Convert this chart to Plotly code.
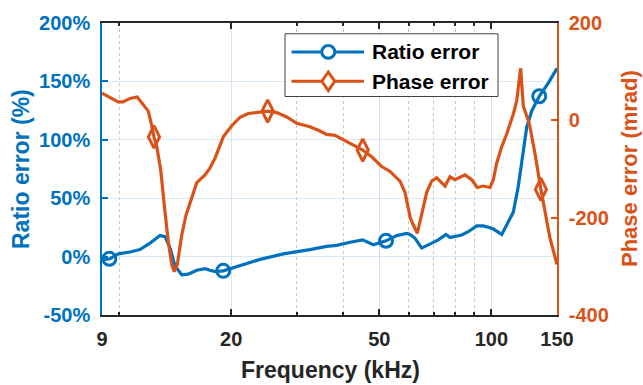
import plotly.graph_objects as go

# ---- data ----
ratio_freq = [9.0, 9.42, 9.96, 10.70, 11.38, 12.11, 12.88, 13.29, 13.71, 14.14, 14.73, 15.34,
              16.17, 17.02, 17.55, 18.10, 19.05, 20.27, 23.91, 27.61, 30.00, 32.56, 36.11, 38.40,
              41.71, 45.12, 48.18, 52.11, 55.68, 59.23, 60.45, 62.35, 64.98, 68.41, 72.00, 75.50,
              77.40, 83.20, 86.67, 91.29, 95.09, 99.12, 101.2, 106.6, 111.0, 114.5, 118.1, 121.3,
              124.4, 128.3, 134.4, 142.1, 150.0]
ratio_vals = [-2.6, -1.9, 2.3, 3.9, 6.0, 11.5, 18.0, 17.1, 7.3, -8.1, -15.6, -15.0,
              -11.7, -10.3, -11.7, -12.8, -12.2, -9.5, -2.4, 2.3, 4.5, 6.0, 8.7, 9.6,
              12.3, 14.3, 10.2, 13.5, 18.0, 19.9, 19.0, 15.7, 7.3, 10.7, 14.3, 19.0,
              16.3, 18.5, 21.3, 26.3, 26.3, 24.7, 23.6, 19.0, 29.7, 38.1, 60.5, 88.4,
              110.8, 124.7, 137.3, 148.6, 161.2]
ratio_marker_idx = [1, 16, 27, 50]

phase_freq = [9.0, 9.46, 9.94, 10.25, 10.70, 11.19, 11.62, 11.98, 12.24, 12.41, 12.63, 12.94,
              13.23, 13.56, 13.85, 14.07, 14.34, 14.73, 15.13, 15.57, 16.17, 17.02, 17.55, 18.10,
              19.05, 20.07, 21.13, 22.24, 23.66, 25.07, 26.51, 28.20, 30.00, 32.56, 34.64, 36.11,
              38.01, 40.87, 45.12, 47.71, 50.74, 53.42, 55.68, 56.81, 58.60, 60.63, 63.24, 64.98,
              67.02, 69.12, 71.30, 75.05, 77.40, 79.83, 84.92, 88.52, 91.63, 95.09, 99.12, 101.2,
              103.3, 106.6, 109.9, 114.5, 116.9, 119.8, 121.8, 126.4, 130.9, 135.8, 139.2, 143.6,
              150.0]
phase_vals = [56, 47, 38, 38, 45, 48, 33, 19, -11, -34, -54, -102,
              -175, -249, -296, -311, -296, -236, -195, -165, -128, -112, -98, -78,
              -34, -11, 6, 14, 17, 19, 16, 7, -6, -13, -22, -29,
              -31, -44, -61, -75, -95, -105, -118, -125, -148, -202, -232, -195,
              -148, -125, -118, -135, -116, -122, -112, -122, -138, -135, -138, -122,
              -88, -54, -28, 13, 40, 107, 29, -7, -68, -142, -189, -242,
              -296]
phase_marker_idx = [9, 29, 38, 69]

x_tickvals = [9, 20, 50, 100, 150]
x_ticktext = ["9", "20", "50", "100", "150"]
x_minorvals = [10, 30, 40, 60, 70, 80, 90]
left_tickvals = [-50, 0, 50, 100, 150, 200]
left_ticktext = ["-50%", "0%", "50%", "100%", "150%", "200%"]
right_tickvals = [-400, -200, 0, 200]
right_ticktext = ["-400", "-200", "0", "200"]
series_names = ["Ratio error", "Phase error"]

BLUE = "#0072BD"
ORANGE = "#D95319"
DARK = "#262626"
FONT = "Liberation Sans"

fig = go.Figure()
fig.add_trace(go.Scatter(x=ratio_freq, y=ratio_vals, mode="lines",
                         line=dict(color=BLUE, width=3.2), showlegend=False, yaxis="y"))
fig.add_trace(go.Scatter(x=[ratio_freq[i] for i in ratio_marker_idx],
                         y=[ratio_vals[i] for i in ratio_marker_idx], mode="markers",
                         marker=dict(symbol="circle-open", size=13, color=BLUE,
                                     line=dict(width=3, color=BLUE)),
                         showlegend=False, yaxis="y"))
fig.add_trace(go.Scatter(x=phase_freq, y=phase_vals, mode="lines",
                         line=dict(color=ORANGE, width=3.2), showlegend=False, yaxis="y2"))
fig.add_trace(go.Scatter(x=[phase_freq[i] for i in phase_marker_idx],
                         y=[phase_vals[i] for i in phase_marker_idx], mode="markers",
                         marker=dict(symbol="diamond-tall-open", size=16, color=ORANGE,
                                     line=dict(width=3, color=ORANGE)),
                         showlegend=False, yaxis="y2"))

# ---- manual legend (paper coordinates) ----
W, H, L, B = 455.0, 298.0, 102.0, 70.0
def px(X):
    return (X - L) / W
def py(Y):
    return (385 - B - Y) / H

shapes = []
shapes.append(dict(type="rect", xref="paper", yref="paper", x0=px(285), x1=px(498),
                   y0=py(92), y1=py(28), fillcolor="white",
                   line=dict(color="#404040", width=1), layer="above"))
rows = [46.5, 76.5]
colors = [BLUE, ORANGE]
for r, c in zip(rows, colors):
    shapes.append(dict(type="line", xref="paper", yref="paper", x0=px(291.5), x1=px(364),
                       y0=py(r), y1=py(r), line=dict(color=c, width=3), layer="above"))
mx = 328.3
shapes.append(dict(type="circle", xref="paper", yref="paper", x0=px(mx - 6.5), x1=px(mx + 6.5),
                   y0=py(rows[0] + 6.5), y1=py(rows[0] - 6.5), fillcolor="white",
                   line=dict(color=BLUE, width=3), layer="above"))
dpath = "M {:.5f},{:.5f} L {:.5f},{:.5f} L {:.5f},{:.5f} L {:.5f},{:.5f} Z".format(
    px(mx), py(rows[1] - 9.5), px(mx + 6.5), py(rows[1]), px(mx), py(rows[1] + 9.5),
    px(mx - 6.5), py(rows[1]))
shapes.append(dict(type="path", xref="paper", yref="paper", path=dpath, fillcolor="white",
                   line=dict(color=ORANGE, width=3), layer="above"))

annotations = []
for r, name in zip(rows, series_names):
    annotations.append(dict(xref="paper", yref="paper", x=px(370), y=py(r), text=name,
                            showarrow=False, xanchor="left", yanchor="middle",
                            font=dict(family=FONT, size=21, color="black", weight="bold")))
annotations.append(dict(xref="paper", yref="paper", x=px(330), y=py(371),
                        text="Frequency (kHz)", showarrow=False, xanchor="center",
                        yanchor="middle",
                        font=dict(family=FONT, size=23, color=DARK, weight="bold")))
annotations.append(dict(xref="paper", yref="paper", x=px(21), y=py(166),
                        text="Ratio error (%)", showarrow=False, textangle=-90,
                        xanchor="center", yanchor="middle",
                        font=dict(family=FONT, size=23, color=BLUE, weight="bold")))
annotations.append(dict(xref="paper", yref="paper", x=px(629), y=py(166),
                        text="Phase error (mrad)", showarrow=False, textangle=-90,
                        xanchor="center", yanchor="middle",
                        font=dict(family=FONT, size=22, color=ORANGE, weight="bold")))

fig.update_layout(
    width=643, height=385,
    margin=dict(l=102, r=86, t=17, b=70),
    paper_bgcolor="white", plot_bgcolor="white",
    font=dict(family=FONT, size=20, color=DARK, weight="bold"),
    showlegend=False,
    shapes=shapes, annotations=annotations,
    xaxis=dict(type="log", range=[0.954243, 2.176091],
               tickvals=x_tickvals, ticktext=x_ticktext,
               ticks="inside", ticklen=6, tickwidth=1.5, tickcolor=DARK,
               showline=True, linecolor=DARK, linewidth=1.5, mirror="ticks",
               showgrid=True, gridcolor="#dde1e6", gridwidth=1, zeroline=False,
               tickfont=dict(family=FONT, size=20, color=DARK, weight="bold"),
               ticklabelstandoff=5,
               minor=dict(tickvals=x_minorvals, ticks="inside", ticklen=3, tickcolor=DARK,
                          showgrid=True, gridcolor="#c6c6c6", griddash="dot", gridwidth=1)),
    yaxis=dict(range=[-50, 200], tickvals=left_tickvals, ticktext=left_ticktext,
               ticks="inside", ticklen=6, tickwidth=1.5, tickcolor=BLUE,
               showline=True, linecolor=BLUE, linewidth=1.5,
               showgrid=True, gridcolor="#d9e8f5", gridwidth=1, zeroline=False,
               tickfont=dict(family=FONT, size=20, color=BLUE, weight="bold"),
               ticklabelstandoff=6),
    yaxis2=dict(range=[-400, 200], tickvals=right_tickvals, ticktext=right_ticktext,
                overlaying="y", side="right",
                ticks="inside", ticklen=6, tickwidth=1.5, tickcolor=ORANGE,
                showline=True, linecolor=ORANGE, linewidth=1.5,
                showgrid=False, zeroline=False,
                tickfont=dict(family=FONT, size=20, color=ORANGE, weight="bold"),
                ticklabelstandoff=6),
)

fig.write_html("out.html")
